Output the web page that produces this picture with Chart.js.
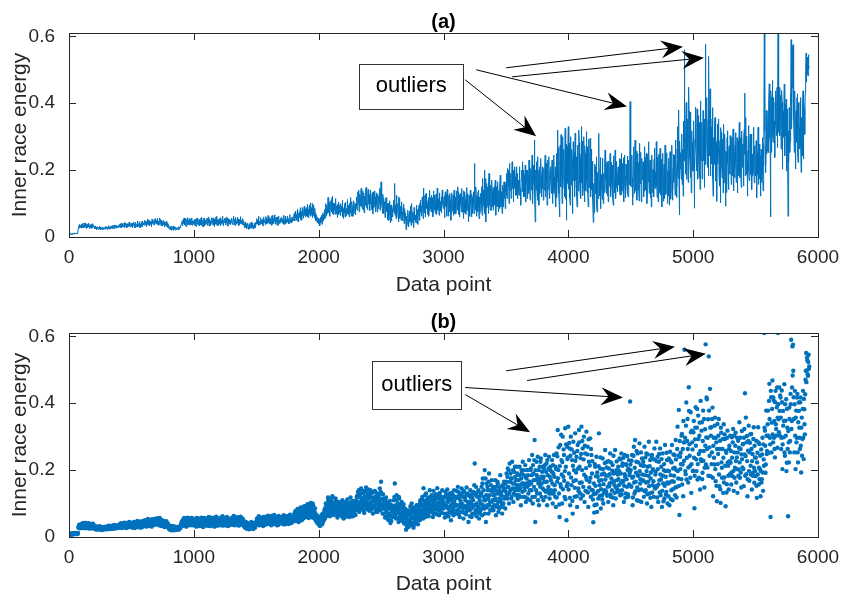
<!DOCTYPE html>
<html>
<head>
<meta charset="utf-8">
<script src="https://cdn.jsdelivr.net/npm/chart.js@4"></script>
<style>
  html, body { margin: 0; padding: 0; background: #fff; }
  #wrap { position: relative; width: 843px; height: 599px; }
  canvas { position: absolute; left: 0; }
  #chartA { top: 0; }
  #chartB { top: 300px; }
</style>
</head>
<body>
<div id="wrap">
  <canvas id="chartA" width="843" height="300"></canvas>
  <canvas id="chartB" width="843" height="299"></canvas>
</div>
<script>
// inner race energy, in thousandths, read at data points 0, 5, 10 ... 5930
const energyMilli = [
  8,7,9,8,10,9,8,11,10,9,12,10,9,11,10,28,33,26,35,30,
  38,29,41,33,27,36,31,42,28,37,33,40,30,25,35,29,39,32,27,34,
  30,26,33,24,29,27,31,23,28,25,30,22,27,24,29,26,23,28,25,31,
  27,23,30,25,33,28,24,31,26,34,29,25,32,27,35,30,26,33,28,31,
  36,29,38,31,27,35,40,30,34,28,37,42,31,36,29,39,33,44,30,35,
  31,40,28,37,45,33,29,41,36,30,46,38,32,43,35,28,40,47,34,38,
  42,35,48,39,31,45,37,51,40,33,47,42,36,53,44,38,49,41,55,46,
  50,38,56,44,35,48,41,52,37,45,33,49,40,30,43,36,47,34,41,31,
  28,23,31,25,20,29,24,32,22,27,21,30,25,23,28,22,26,24,30,33,
  38,46,33,52,41,36,55,43,31,48,58,39,45,35,53,42,37,57,44,40,
  49,35,53,42,31,47,56,38,44,33,51,40,58,36,46,30,54,43,37,50,
  41,55,34,48,60,39,45,33,52,43,37,57,46,31,50,42,61,38,47,35,
  53,44,36,58,47,40,62,34,50,43,56,38,46,60,41,33,54,45,39,51,
  44,57,37,50,63,42,35,55,46,40,59,48,34,53,45,61,39,50,43,36,
  48,33,42,28,38,25,35,30,23,40,27,33,45,29,37,24,31,42,28,36,
  45,55,38,50,62,42,36,58,47,40,53,33,60,44,49,37,57,46,41,64,
  52,39,58,47,35,62,44,55,40,66,48,38,59,45,53,36,63,49,42,56,
  47,60,41,54,65,45,38,58,50,43,62,48,55,40,67,46,52,44,57,49,
  55,70,48,78,60,52,84,66,45,73,58,88,62,50,80,68,56,92,71,60,
  85,64,98,75,57,90,70,102,66,82,58,95,73,62,86,54,48,65,42,56,
  38,52,33,60,45,58,40,66,50,75,55,88,63,96,70,118,80,105,62,92,
  110,75,122,88,66,100,80,115,70,93,58,85,105,72,96,64,88,78,110,68,
  55,90,72,104,63,85,112,76,95,60,82,118,70,98,86,62,108,78,92,66,
  96,120,80,135,102,75,128,92,145,110,85,138,100,72,122,95,148,108,82,130,
  98,125,78,140,105,88,132,70,115,95,138,84,120,102,75,128,90,110,145,100,
  165,112,85,128,70,105,92,60,118,78,100,52,88,70,108,42,96,62,84,75,
  110,72,160,90,55,125,80,100,45,115,68,92,50,105,75,60,98,40,85,58,
  22,62,40,80,30,70,48,92,35,100,58,75,28,88,52,66,42,95,60,38,
  70,95,50,110,78,62,120,88,146,72,105,60,130,85,98,68,118,80,140,92,
  75,125,95,60,138,82,110,70,128,98,146,80,115,65,132,90,108,72,140,100,
  85,120,58,135,95,70,142,105,62,125,88,110,50,132,78,100,65,140,92,115,
  70,138,95,150,80,115,60,130,100,145,75,120,55,135,90,110,68,148,85,105,
  45,125,80,140,100,60,118,90,135,70,220,95,150,62,120,85,140,55,110,78,
  100,150,65,175,120,85,200,110,45,160,95,140,70,190,125,80,155,105,135,90,
  80,150,110,170,65,130,95,160,75,140,115,185,90,125,70,150,100,165,120,85,
  135,190,115,205,150,100,220,140,175,120,225,160,105,195,145,180,125,210,155,115,
  170,125,210,145,95,200,160,225,120,185,140,215,105,175,150,200,130,230,165,110,
  205,140,245,100,190,150,290,45,170,225,130,240,160,95,210,150,235,120,195,145,
  110,205,165,245,135,220,95,185,150,240,115,200,170,130,230,100,190,245,155,120,
  90,250,165,320,200,130,60,275,150,230,100,300,180,245,120,325,210,50,270,160,
  330,190,265,95,300,155,230,70,285,200,120,310,170,240,90,275,145,320,210,130,
  115,330,200,265,150,300,105,250,180,315,135,270,90,225,165,295,120,245,190,140,
  44,160,95,210,130,240,75,180,115,310,155,205,85,170,125,235,100,190,140,260,
  185,130,225,150,105,205,160,250,120,175,140,215,95,190,155,260,115,200,170,135,
  210,155,235,125,190,250,140,220,165,105,245,180,130,215,150,200,120,230,185,405,
  200,150,245,95,180,270,130,290,165,225,110,250,185,140,280,160,215,105,235,170,
  225,120,270,185,140,250,100,210,165,285,130,230,175,90,245,155,200,120,265,145,
  195,285,150,240,105,225,170,265,125,210,90,250,160,200,115,275,180,135,230,100,
  160,235,95,255,185,140,275,110,205,165,245,125,290,200,150,330,175,380,66,240,
  252,173,308,217,122,283,560,297,188,402,237,353,163,448,277,212,373,132,318,262,
  198,347,86,292,388,232,327,172,363,248,303,142,407,227,343,192,378,257,148,322,
  576,298,412,208,352,540,268,443,182,328,253,387,122,297,217,357,167,283,107,338,
  248,353,152,288,102,312,207,263,132,337,178,293,92,252,158,318,213,142,273,188,
  222,157,298,182,323,138,253,207,312,163,238,132,288,202,343,177,263,148,317,208,
  278,152,323,430,242,188,302,122,258,333,168,282,213,308,142,248,193,328,162,238,
  182,288,117,252,328,157,278,203,122,262,173,297,138,232,610,318,192,378,248,302,
  378,252,458,297,60,418,342,468,283,408,347,238,437,323,388,267,610,352,447,303,
  417,263,438,203,377,298,457,243,348,412,222,327,62,283,387,253,428,590,347,570,
  575,418,253,437,203,378,297,428,223,402,327,263,417,193,357,293,437,233,382,307,
  470,550,497,528,482,545,510
];
// second set of readings, at data points 2, 7, 12 ... 5927
const energyMilliB = [
  9,8,10,7,9,11,8,10,9,12,10,11,9,10,12,31,37,29,33,27,
  32,40,27,35,42,30,37,26,39,33,28,41,34,29,37,31,26,36,40,30,
  28,24,31,27,22,30,25,29,23,32,26,24,28,21,30,27,25,29,23,27,
  31,26,28,34,24,29,32,27,30,25,33,28,36,26,31,29,34,27,32,29,
  33,38,28,41,34,30,37,32,43,29,35,39,27,40,34,31,45,36,32,41,
  36,29,42,34,39,27,44,37,31,48,35,40,29,46,38,33,42,30,45,36,
  37,50,41,34,46,39,54,35,43,49,38,45,31,50,41,47,36,52,43,39,
  44,53,40,47,39,57,42,33,50,38,46,36,44,39,34,45,31,40,29,37,
  25,30,22,27,33,23,28,20,26,31,24,29,22,27,25,31,23,28,27,36,
  44,35,50,40,57,38,47,33,53,42,36,50,40,56,37,46,52,35,48,43,
  38,52,44,33,57,40,46,35,52,42,36,55,44,32,49,39,57,34,45,41,
  50,36,57,42,33,53,46,38,58,40,49,35,54,43,38,59,44,34,52,45,
  40,55,47,35,52,43,58,38,47,55,36,50,42,34,57,46,40,53,37,48,
  52,39,47,60,36,53,44,58,38,49,42,54,46,36,58,41,47,38,55,45,
  40,29,37,45,26,34,41,27,36,24,32,38,26,42,30,35,27,39,33,44,
  38,51,43,57,35,48,40,55,44,50,37,59,41,52,45,61,39,53,47,42,
  58,46,40,55,49,64,38,50,45,59,41,53,47,35,60,43,55,40,50,45,
  56,43,51,38,59,48,62,41,53,45,57,39,50,63,44,55,42,60,47,52,
  62,50,75,58,68,48,80,55,70,62,82,52,76,65,88,58,74,64,84,70,
  72,90,60,82,68,96,62,78,88,70,100,64,80,56,72,50,60,45,58,40,
  48,36,55,42,65,38,70,48,62,82,58,100,68,85,75,110,72,92,85,100,
  88,118,70,102,80,92,68,108,85,75,98,66,92,80,70,100,75,92,60,85,
  78,100,60,92,80,70,98,66,88,102,72,90,62,106,80,95,70,85,100,80,
  110,88,125,96,140,85,118,105,130,92,115,80,132,110,95,138,88,120,100,142,
  115,90,128,100,82,118,95,135,88,108,120,75,132,98,112,85,122,100,80,135,
  130,95,70,115,85,98,58,108,75,90,64,100,50,85,62,95,48,78,60,92,
  82,120,65,95,110,58,88,72,120,55,82,62,96,70,48,88,65,78,50,72,
  48,32,68,52,40,78,45,62,55,85,42,70,36,80,60,48,75,55,82,64,
  88,60,102,75,92,68,112,55,98,82,125,65,95,112,78,108,62,98,84,118,
  108,88,118,72,100,125,85,95,115,68,122,102,90,128,78,102,120,85,110,92,
  102,70,118,90,128,62,108,85,118,75,130,95,72,115,88,125,80,105,70,120,
  95,120,80,135,68,125,90,108,75,130,98,85,138,72,118,92,125,78,130,95,
  90,105,62,118,85,128,70,110,95,155,130,80,125,100,75,135,90,120,70,130,
  130,85,160,95,140,110,70,175,125,88,150,115,165,95,105,140,80,170,110,145,
  125,95,140,115,150,90,165,105,130,85,150,110,135,100,155,90,140,115,145,160,
  165,125,180,150,200,130,165,190,115,175,145,200,130,160,210,140,170,125,190,150,
  140,185,155,120,175,190,135,160,200,150,120,180,160,200,115,185,155,165,140,200,
  160,185,120,215,170,230,120,200,140,185,175,110,200,170,130,225,180,160,210,175,
  180,140,215,120,195,165,230,140,205,130,180,210,140,195,160,215,130,180,140,210,
  203,118,241,176,268,97,212,158,306,187,224,143,262,168,197,113,277,152,233,238,
  142,281,117,243,178,262,108,213,167,252,147,228,193,122,257,204,137,283,162,236,
  248,163,287,124,232,186,273,138,206,171,247,133,292,148,214,177,263,141,227,112,
  128,73,218,153,182,97,193,137,212,168,123,238,143,187,112,203,158,133,221,172,
  137,208,123,183,227,152,188,127,223,163,198,118,243,167,132,192,148,226,143,187,
  173,197,138,232,162,127,213,168,237,153,188,117,218,173,242,128,204,157,193,217,
  153,228,177,118,243,163,207,137,192,257,148,183,223,108,197,173,253,142,187,213,
  168,213,137,238,163,197,128,247,183,152,212,117,193,237,133,203,167,232,148,187,
  152,227,118,203,157,248,133,187,172,233,138,183,107,218,153,197,127,252,163,198,
  122,197,163,228,113,223,167,143,247,183,207,148,232,118,263,197,243,153,287,203,
  218,303,157,263,347,228,283,197,333,172,287,263,208,377,243,177,313,218,283,197,
  313,237,183,327,273,197,383,218,293,177,342,257,233,318,173,287,228,353,207,273,
  217,417,263,297,183,378,243,327,303,218,353,177,273,237,333,203,297,153,263,218,
  303,187,263,143,327,223,177,293,237,163,307,213,257,133,297,223,183,263,227,303,
  257,193,237,283,197,303,177,273,227,203,297,253,183,267,223,297,193,247,233,277,
  203,297,247,183,357,283,227,173,287,197,253,307,187,263,227,183,293,207,273,197,
  237,153,223,187,283,207,173,243,197,163,247,193,277,213,327,273,217,303,257,337,
  303,407,353,277,437,253,383,307,417,297,263,403,337,303,447,357,397,313,377,423,
  357,297,403,277,333,347,253,397,303,197,383,263,317,223,353,287,397,323,447,483,
  497,353,397,303,357,283,417,253,343,377,297,403,273,327,243,383,297,413,337,427,
  497,463,537,487,523,503
];
const dataStep = 5;
const offsetB = 2;

const xTicks = [0, 1000, 2000, 3000, 4000, 5000, 6000];
const yTicks = [0, 0.2, 0.4, 0.6];

// outlier call-outs in data units: [fromX, fromY, toX, toY]
const arrowsA = [[3174, 0.470, 3742, 0.301], [3262, 0.500, 4470, 0.390],
                 [3502, 0.506, 4918, 0.569], [3550, 0.479, 5086, 0.536]];
const boxA = [2326, 0.518, 3158, 0.384];
const arrowsB = [[3174, 0.426, 3694, 0.313], [3174, 0.447, 4438, 0.417],
                 [3502, 0.497, 4854, 0.569], [3670, 0.468, 5102, 0.548]];
const boxB = [2430, 0.527, 3142, 0.384];

const points = energyMilli.map((v, i) => ({ x: i * dataStep, y: v / 1000 }))
  .concat(energyMilliB.map((v, i) => ({ x: i * dataStep + offsetB, y: v / 1000 })))
  .sort((p, q) => p.x - q.x);

const FONT = '"Liberation Sans", Arial, Helvetica, sans-serif';
const INK = '#262626';
const BLUE = '#0072BD';

function drawArrow(ctx, x0, y0, x1, y1) {
  const dx = x1 - x0, dy = y1 - y0, len = Math.hypot(dx, dy);
  const ux = dx / len, uy = dy / len;
  const L = 22, W = 9;
  const bx = x1 - ux * L, by = y1 - uy * L;
  ctx.beginPath();
  ctx.moveTo(x0, y0);
  ctx.lineTo(x1 - ux * L * 0.6, y1 - uy * L * 0.6);
  ctx.stroke();
  ctx.beginPath();
  ctx.moveTo(x1, y1);
  ctx.lineTo(bx - uy * W, by + ux * W);
  ctx.lineTo(x1 - ux * L * 0.66, y1 - uy * L * 0.66);
  ctx.lineTo(bx + uy * W, by - ux * W);
  ctx.closePath();
  ctx.fill();
}

const frame = {
  id: 'frame',
  afterDatasetsDraw(chart, args, opts) {
    const { ctx, chartArea: a, scales: { x, y } } = chart;
    ctx.save();
    ctx.strokeStyle = INK;
    ctx.lineWidth = 1;
    ctx.strokeRect(Math.round(a.left) + 0.5, Math.round(a.top) + 0.5,
                   Math.round(a.right - a.left), Math.round(a.bottom - a.top));
    const tl = 7;
    ctx.beginPath();
    xTicks.forEach(v => {
      const px = Math.round(x.getPixelForValue(v)) + 0.5;
      ctx.moveTo(px, a.bottom); ctx.lineTo(px, a.bottom - tl);
      ctx.moveTo(px, a.top); ctx.lineTo(px, a.top + tl);
    });
    yTicks.forEach(v => {
      const py = Math.round(y.getPixelForValue(v)) + 0.5;
      ctx.moveTo(a.left, py); ctx.lineTo(a.left + tl, py);
      ctx.moveTo(a.right, py); ctx.lineTo(a.right - tl, py);
    });
    ctx.stroke();

    // title
    ctx.fillStyle = '#000';
    ctx.font = 'bold 20px ' + FONT;
    ctx.textAlign = 'center';
    ctx.textBaseline = 'middle';
    ctx.fillText(opts.title, (a.left + a.right) / 2, a.top - 11);

    // call-out box
    const b = opts.box;
    const bx0 = x.getPixelForValue(b[0]), by0 = y.getPixelForValue(b[1]);
    const bx1 = x.getPixelForValue(b[2]), by1 = y.getPixelForValue(b[3]);
    ctx.fillStyle = '#fff';
    ctx.fillRect(bx0, by0, bx1 - bx0, by1 - by0);
    ctx.strokeStyle = '#333';
    ctx.strokeRect(Math.round(bx0) + 0.5, Math.round(by0) + 0.5, Math.round(bx1 - bx0), Math.round(by1 - by0));
    ctx.fillStyle = '#000';
    ctx.font = '22px ' + FONT;
    ctx.fillText('outliers', (bx0 + bx1) / 2, (by0 + by1) / 2);

    ctx.strokeStyle = '#000';
    ctx.fillStyle = '#000';
    opts.arrows.forEach(r => drawArrow(ctx,
      x.getPixelForValue(r[0]), y.getPixelForValue(r[1]),
      x.getPixelForValue(r[2]), y.getPixelForValue(r[3])));
    ctx.restore();
  }
};

function options(xAxisHeight, title, box, arrows) {
  return {
    responsive: false,
    animation: false,
    events: [],
    layout: { padding: { top: 33, right: 25, left: 0, bottom: 0 } },
    plugins: {
      legend: { display: false },
      tooltip: { enabled: false },
      frame: { title: title, box: box, arrows: arrows }
    },
    scales: {
      x: {
        type: 'linear', min: 0, max: 6000,
        afterFit: s => { s.height = xAxisHeight; },
        afterBuildTicks: s => { s.ticks = xTicks.map(v => ({ value: v })); },
        grid: { display: false }, border: { display: false },
        ticks: { color: INK, font: { size: 19, family: FONT }, padding: 1,
                 maxRotation: 0, autoSkip: false, callback: v => String(v) },
        title: { display: true, text: 'Data point', color: INK,
                 font: { size: 21, family: FONT }, padding: { top: 0, bottom: 2 } }
      },
      y: {
        type: 'linear', min: 0, max: 0.61,
        afterFit: s => { s.width = 69; },
        afterBuildTicks: s => { s.ticks = yTicks.map(v => ({ value: v })); },
        grid: { display: false }, border: { display: false },
        ticks: { color: INK, font: { size: 19, family: FONT }, padding: 6,
                 callback: v => (v === 0 ? '0' : v.toFixed(1)) },
        title: { display: true, text: 'Inner race energy', color: INK,
                 font: { size: 21, family: FONT }, padding: { top: 8, bottom: 0 } }
      }
    }
  };
}

new Chart(document.getElementById('chartA'), {
  type: 'line',
  data: { datasets: [{ data: points, borderColor: BLUE, borderWidth: 1,
                       pointRadius: 0, tension: 0, fill: false }] },
  options: options(63, '(a)', boxA, arrowsA),
  plugins: [frame]
});

new Chart(document.getElementById('chartB'), {
  type: 'scatter',
  data: { datasets: [{ data: points, backgroundColor: BLUE, borderWidth: 0,
                       pointRadius: 2.2, pointHoverRadius: 0 }] },
  options: options(62, '(b)', boxB, arrowsB),
  plugins: [frame]
});
</script>
</body>
</html>
